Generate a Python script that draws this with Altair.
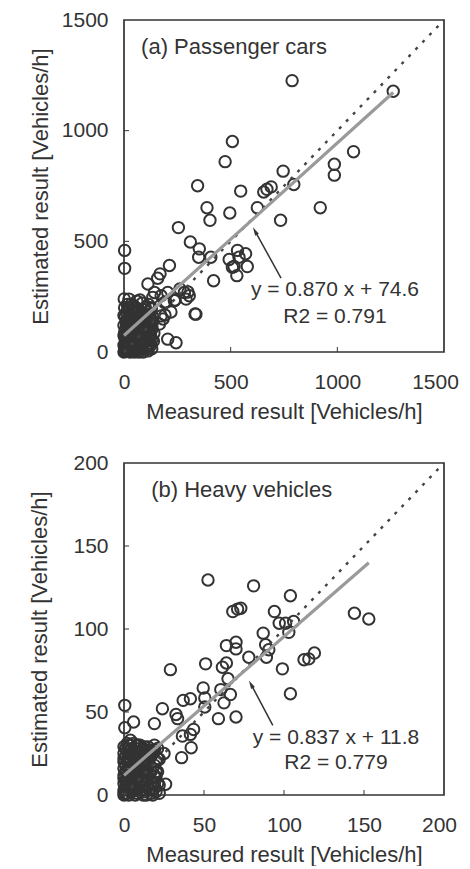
import altair as alt
import pandas as pd

# ---------------- data: (a) Passenger cars ----------------
a_meas = [788, 1262, 508, 474, 1076, 986, 986, 746, 796, 345, 547, 690, 670, 655, 625, 389, 496, 403, 920, 734,
          255, 311, 353, 350, 407, 532, 570, 539, 493, 516, 578, 508, 529, 420, 337, 213, 169, 158, 112, 143,
          174, 205, 283, 306, 291, 236, 190, 135, 205, 244, 174, 166, 127, 3, 3, 23, 34, 66, 183, 220,
          192, 262, 300, 239, 197, 333,
          0, 2, 5, 8, 10, 12, 15, 18, 20, 22, 25, 28, 30, 32, 35, 38, 40, 42, 45, 48,
          50, 52, 55, 58, 60, 62, 65, 68, 70, 72, 75, 78, 80, 82, 85, 88, 90, 92, 95, 98,
          100, 102, 105, 108, 110, 112, 115, 118, 120, 122, 125, 128, 130, 132, 135, 138, 140, 5, 8, 10,
          12, 15, 3, 6, 18, 20, 25, 30, 35, 40, 45, 50, 55, 60, 0, 0, 0, 0, 3, 1,
          15, 25, 38, 65, 85, 100, 115, 75,
          5, 10, 15, 20, 25, 30, 35, 40, 45, 50, 55, 60, 65, 70, 75, 80, 85, 90, 95, 100,
          105, 110, 115, 120, 125, 130, 135, 110, 90, 70, 50, 30, 100, 80, 60, 40, 20, 10, 5, 15,
          35, 55, 75, 95, 115, 125, 130, 60, 45, 25, 80, 95, 105, 65, 35, 20, 12, 50, 85, 120]
a_est = [1226, 1178, 951, 860, 905, 848, 799, 817, 757, 751, 727, 746, 735, 723, 652, 652, 628, 595, 652, 595,
         562, 497, 466, 428, 428, 459, 444, 428, 418, 386, 386, 383, 345, 322, 171, 391, 353, 333, 307, 269,
         254, 269, 269, 254, 239, 232, 224, 247, 58, 42, 163, 126, 194, 459, 378, 239, 216, 194, 149, 181,
         167, 285, 271, 235, 226, 172,
         0, 5, 12, 3, 20, 8, 30, 15, 45, 2, 60, 25, 10, 80, 40, 5, 100, 55, 18, 120,
         70, 30, 140, 90, 8, 45, 110, 160, 20, 75, 130, 50, 95, 175, 12, 65, 145, 35, 110, 190,
         80, 25, 150, 55, 120, 5, 95, 170, 40, 135, 70, 200, 15, 105, 160, 50, 85, 60, 100, 140,
         180, 215, 90, 160, 120, 200, 170, 150, 190, 175, 210, 185, 200, 230, 30, 75, 120, 165, 200, 240,
         75, 110, 140, 180, 220, 200, 215, 235,
         25, 40, 55, 70, 85, 100, 115, 130, 145, 160, 175, 190, 20, 35, 50, 65, 80, 95, 125, 140,
         165, 180, 30, 60, 90, 120, 140, 15, 0, 0, 0, 0, 45, 120, 140, 160, 150, 110, 80, 5,
         60, 85, 100, 60, 75, 30, 55, 110, 75, 40, 150, 170, 100, 60, 25, 95, 130, 125, 130, 100]
a_ticks = [0, 500, 1000, 1500]
a_fit = {"slope": 0.870, "icpt": 74.6, "x0": 0, "x1": 1262}

# ---------------- data: (b) Heavy vehicles ----------------
b_meas = [52.5, 81, 104, 144, 153, 68, 71, 73, 94, 97, 101, 106, 103, 87, 88.5, 90.5, 89, 64, 70, 70,
          78, 112.5, 115.5, 119, 99, 104, 51, 29, 61.5, 64, 65, 49.5, 50.5, 60.5, 66.5, 62.5, 59, 70, 50.5, 37,
          41.5, 32.5, 33.5, 24, 19, 6, 0.5, 0.5, 41.5, 43.5, 36.5, 42, 36, 17, 22, 26, 25, 20, 8, 12, 4,
          0, 0, 0, 0, 0, 0, 0, 0, 1, 1, 1, 2, 2, 2, 3, 3, 3, 4, 4, 4,
          5, 5, 5, 6, 6, 7, 7, 7, 8, 8, 9, 9, 10, 10, 11, 11, 12, 12, 13, 13,
          14, 15, 15, 16, 16, 17, 18, 18, 19, 20, 20, 21, 21, 22, 14, 18, 2, 6, 10, 16,
          1, 1, 1, 2, 2, 2, 3, 3, 3, 4, 4, 4, 5, 5, 5, 6, 6, 6, 7, 7,
          8, 8, 8, 9, 9, 10, 10, 11, 11, 11, 12, 12, 13, 13, 14, 14, 15, 15, 16, 17,
          17, 17, 18, 19, 19, 19, 20, 21, 21, 22, 3, 9, 13, 19, 0, 0, 0, 1]
b_est = [129.5, 126, 120, 109.5, 106, 110.5, 112, 112.5, 110.5, 103.5, 103.5, 104.5, 98, 97.5, 90.5, 87.5, 83, 90, 92, 88,
         83, 81.5, 82, 85.5, 76, 61, 79, 75.5, 77, 79.5, 70, 64.5, 58.5, 63.5, 60.5, 55.5, 46, 47, 53, 57,
         58, 48.5, 46, 52, 43, 44, 54, 40.5, 36.5, 39.5, 35.5, 28.5, 22.5, 26.5, 21.5, 6.5, 25, 14, 30, 28, 33,
         0, 3, 7, 12, 16, 20, 25, 29, 1, 9, 18, 4, 14, 26, 0, 10, 21, 6, 16, 30,
         2, 12, 24, 8, 19, 0, 14, 28, 5, 22, 11, 17, 2, 26, 8, 20, 14, 0, 24, 5,
         18, 10, 29, 3, 22, 14, 7, 25, 18, 2, 11, 28, 22, 6, 0, 0, 31, 31, 30, 27,
         5, 14, 23, 1, 9, 20, 6, 15, 26, 2, 11, 22, 8, 17, 28, 4, 13, 24, 9, 19,
         1, 14, 26, 6, 22, 12, 18, 3, 15, 27, 9, 21, 2, 16, 11, 25, 5, 19, 13, 1,
         8, 24, 16, 4, 11, 27, 20, 7, 14, 1, 30, 30, 29, 30, 1, 10, 22, 28]
b_ticks = [0, 50, 100, 150, 200]
b_fit = {"slope": 0.837, "icpt": 11.8, "x0": 0, "x1": 153}

W, H = 320, 332
FONT = "Liberation Sans"
INK = "#333333"


def panel(xs, ys, ticks, dmax, fit, label, label_xy, eq_lines, eq_xy, arrow, ytitle_pad, last_shift):
    sx = alt.Scale(domain=[0, dmax], nice=False, zero=True)
    sy = alt.Scale(domain=[0, dmax], nice=False, zero=True)
    inner = ticks[1:-1]
    xax = alt.Axis(values=ticks, title="Measured result [Vehicles/h]", labelPadding=19,
                   titlePadding=9, format="d", labelFlush=False, labelOverlap=False,
                   labelOffset=alt.ExprRef(expr=f"datum.value == {dmax} ? {last_shift} : 0"))
    yax = alt.Axis(values=ticks, title="Estimated result [Vehicles/h]", labelPadding=16,
                   titlePadding=ytitle_pad, format="d", labelFlush=False, labelOverlap=False)
    X = alt.X("m:Q")
    Y = alt.Y("e:Q")

    pts = alt.Chart(pd.DataFrame({"m": xs, "e": ys})).mark_point(
        shape="circle", filled=False, size=130, strokeWidth=2, color=INK, opacity=1
    ).encode(x=alt.X("m:Q", scale=sx, axis=xax), y=alt.Y("e:Q", scale=sy, axis=yax))

    diag = alt.Chart(pd.DataFrame({"m": [0, dmax], "e": [0, dmax]})).mark_line(
        color="#444444", strokeWidth=2.4, strokeDash=[3, 7]
    ).encode(x=X, y=Y)

    fx = [fit["x0"], fit["x1"]]
    fy = [fit["slope"] * v + fit["icpt"] for v in fx]
    fitline = alt.Chart(pd.DataFrame({"m": fx, "e": fy})).mark_line(
        color="#9a9a9a", strokeWidth=3.2
    ).encode(x=X, y=Y)

    xt = alt.Chart(pd.DataFrame({"m": inner})).mark_rule(color=INK, strokeWidth=1).encode(
        x=X, y=alt.value(H), y2=alt.value(H - 5))
    yt = alt.Chart(pd.DataFrame({"e": inner})).mark_rule(color=INK, strokeWidth=1).encode(
        y=Y, x=alt.value(0), x2=alt.value(5))

    lab = alt.Chart(pd.DataFrame({"m": [label_xy[0]], "e": [label_xy[1]], "t": [label]})).mark_text(
        font=FONT, fontSize=22, align="left", baseline="middle", color=INK
    ).encode(x=X, y=Y, text="t:N")

    eq = alt.Chart(pd.DataFrame({"m": [eq_xy[0], eq_xy[0]], "e": [eq_xy[1], eq_xy[2]], "t": eq_lines})).mark_text(
        font=FONT, fontSize=21, align="center", baseline="middle", color=INK
    ).encode(x=X, y=Y, text="t:N")

    arr_line = alt.Chart(pd.DataFrame({"m": [arrow[0], arrow[2]], "e": [arrow[1], arrow[3]]})).mark_line(
        color=INK, strokeWidth=1.5
    ).encode(x=X, y=Y)
    arr_head = alt.Chart(pd.DataFrame({"m": [arrow[2]], "e": [arrow[3]]})).mark_point(
        shape="M0,-1L0.45,0.8L-0.45,0.8Z", filled=True, size=90, angle=331, color=INK, opacity=1
    ).encode(x=X, y=Y)

    return alt.layer(pts, diag, fitline, xt, yt, arr_line, arr_head, lab, eq).properties(width=W, height=H)


pa = panel(a_meas, a_est, a_ticks, 1500, a_fit, "(a) Passenger cars", (80, 1378),
           ["y = 0.870 x + 74.6", "R2 = 0.791"], (989, 280, 158), (736, 334, 615, 545), 9, -9)
pb = panel(b_meas, b_est, b_ticks, 200, b_fit, "(b) Heavy vehicles", (17, 184),
           ["y = 0.837 x + 11.8", "R2 = 0.779"], (132.5, 34.3, 19.3), (93, 42, 79.5, 66.5), 21, -5)

chart = alt.vconcat(pa, pb, spacing=28).properties(
    padding={"left": 20, "top": 0, "right": 0, "bottom": 0}
).configure(font=FONT, background="white").configure_view(
    stroke=INK, strokeWidth=1.7
).configure_axis(
    domain=False, ticks=False, grid=False, labelFont=FONT, labelFontSize=21, labelColor=INK,
    titleFont=FONT, titleFontSize=22, titleFontWeight="normal", titleColor=INK
)

chart.save("out.html", embed_options={"renderer": "svg", "actions": False})
